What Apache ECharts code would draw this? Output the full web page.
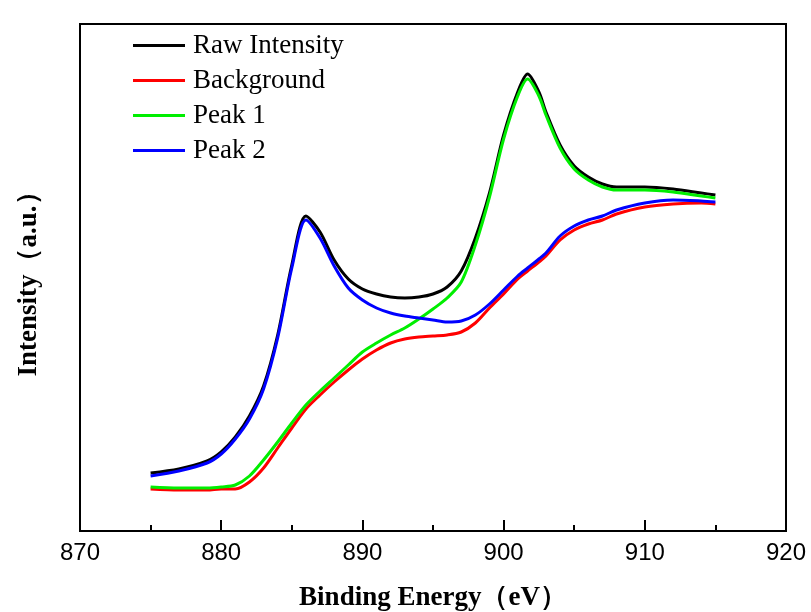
<!DOCTYPE html>
<html>
<head>
<meta charset="utf-8">
<script src="https://cdn.jsdelivr.net/npm/echarts@6/dist/echarts.min.js"></script>
<style>
  html, body { margin: 0; padding: 0; background: #fff; }
  #chart { width: 811px; height: 612px; }
</style>
</head>
<body>
<div id="chart"></div>
<script>
// binding energy (eV)
var energy = [875, 877, 879, 880, 881, 882, 883, 884, 885, 886, 887, 888, 889, 890, 891, 892, 893, 894, 895, 896,
              897, 898, 899, 900, 901, 901.7, 902.5, 903, 904, 905, 906, 907, 908, 910, 912, 914, 915];

// intensity (a.u.)
var rawIntensity = [58, 62, 70, 79, 94, 115, 145, 196, 266, 315, 299, 271, 252, 242, 237, 234, 233, 234, 237, 244,
                    260, 293, 338, 396, 439, 457, 439, 419, 386, 365, 354, 347, 344, 344, 342, 338, 336];
var background = [42, 41, 41, 42, 42, 49, 63, 83, 103, 122, 136, 149, 161, 172, 181, 188, 192, 194, 195, 196,
                  199, 208, 223, 237, 252, 260, 269, 275, 291, 301, 307, 311, 317, 324, 327, 328, 327];
var peak1 = [44, 43, 43, 44, 46, 55, 71, 89, 108, 126, 140, 153, 166, 179, 188, 196, 203, 212, 222, 233,
             249, 286, 334, 392, 435, 452, 435, 416, 383, 362, 351, 344, 341, 341, 339, 335, 333];
var peak2 = [55, 60, 68, 77, 92, 112, 142, 193, 263, 311, 293, 265, 243, 231, 223, 218, 215, 213, 211, 209,
             210, 216, 227, 241, 255, 263, 272, 278, 295, 305, 311, 315, 321, 328, 331, 330, 329];

var seriesNames = ['Raw Intensity', 'Background', 'Peak 1', 'Peak 2'];
var seriesColors = ['#000000', '#ff0000', '#00ee00', '#0000ff'];
var seriesValues = [rawIntensity, background, peak1, peak2];

function pairs(ys) {
    var out = [];
    for (var i = 0; i < energy.length; i++) {
        out.push([energy[i], ys[i]]);
    }
    return out;
}

var chart = echarts.init(document.getElementById('chart'));

var series = [];
for (var k = 0; k < seriesNames.length; k++) {
    series.push({
        name: seriesNames[k],
        type: 'line',
        data: pairs(seriesValues[k]),
        smooth: 0.3,
        showSymbol: false,
        lineStyle: { color: seriesColors[k], width: 3 },
        itemStyle: { color: seriesColors[k] }
    });
}

var option = {
    animation: false,
    backgroundColor: '#fff',
    grid: {
        left: 80, right: 25, top: 24, bottom: 81,
        containLabel: false,
        outerBoundsMode: 'none',
        show: true, borderColor: '#000', borderWidth: 2
    },
    legend: {
        orient: 'vertical',
        left: 133,
        top: 32,
        padding: 0,
        icon: 'rect',
        itemWidth: 52,
        itemHeight: 3,
        itemGap: 8,
        textStyle: {
            fontFamily: 'Liberation Serif',
            fontSize: 27,
            color: '#000',
            padding: [0, 0, 0, 3]
        },
        data: seriesNames
    },
    xAxis: [{
        type: 'value',
        min: 870,
        max: 920,
        interval: 10,
        name: 'Binding Energy（eV）',
        nameLocation: 'middle',
        nameGap: 54,
        nameTextStyle: {
            fontFamily: 'Liberation Serif',
            fontWeight: 'bold',
            fontSize: 27,
            color: '#000'
        },
        axisLine: { lineStyle: { color: '#000', width: 2 } },
        axisTick: { show: true, inside: true, length: 11, lineStyle: { color: '#000', width: 2 } },
        minorTick: { show: true, splitNumber: 2, length: 6, lineStyle: { color: '#000', width: 2 } },
        axisLabel: {
            fontFamily: 'Liberation Sans',
            fontSize: 24,
            color: '#000',
            margin: 10
        },
        splitLine: { show: false }
    }, {
        // tick-only copy of the bottom axis for the major ticks
        type: 'value',
        position: 'bottom',
        min: 870,
        max: 920,
        interval: 10,
        axisLine: { show: false },
        axisTick: { show: true, inside: true, length: 11, lineStyle: { color: '#000', width: 2 } },
        axisLabel: { show: false },
        splitLine: { show: false }
    }],
    yAxis: {
        type: 'value',
        min: 0,
        max: 507,
        name: 'Intensity（a.u.）',
        nameLocation: 'middle',
        nameGap: 37,
        nameTextStyle: {
            fontFamily: 'Liberation Serif',
            fontWeight: 'bold',
            fontSize: 27,
            color: '#000'
        },
        axisLine: { show: true, lineStyle: { color: '#000', width: 2 } },
        axisTick: { show: false },
        axisLabel: { show: false },
        splitLine: { show: false }
    },
    series: series
};

chart.setOption(option);
</script>
</body>
</html>
